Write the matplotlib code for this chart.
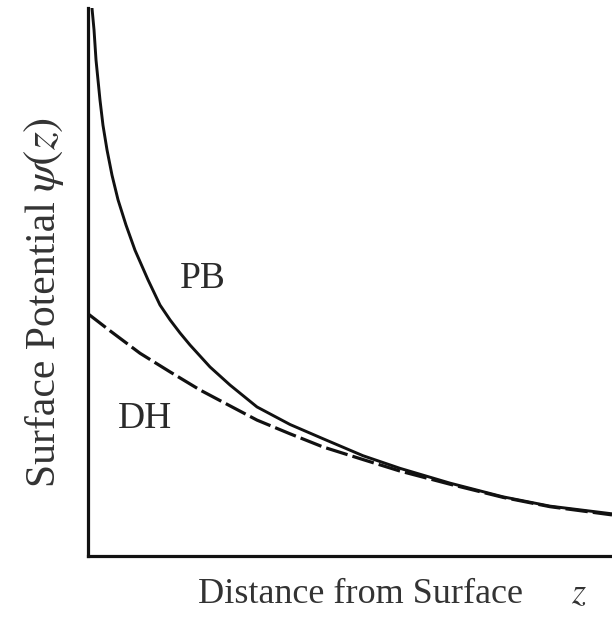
import numpy as np
import matplotlib
matplotlib.use("Agg")
import matplotlib.pyplot as plt

plt.rcParams["font.family"] = ["Liberation Serif", "DejaVu Serif"]
plt.rcParams["mathtext.fontset"] = "stix"

# values (arbitrary units, both axes 0..10)
pb_z = [0.076, 0.115, 0.153, 0.229, 0.286, 0.363, 0.458, 0.573, 0.725, 0.897,
        1.145, 1.374, 1.565, 1.756, 1.947, 2.328, 2.710, 3.225, 3.855, 4.485,
        5.248, 5.954, 6.908, 7.920, 8.817, 10.0]
pb_psi = [10.0, 9.60, 9.05, 8.32, 7.86, 7.41, 6.95, 6.50, 6.04, 5.58,
          5.04, 4.58, 4.31, 4.07, 3.85, 3.45, 3.12, 2.72, 2.40, 2.14,
          1.83, 1.60, 1.33, 1.08, 0.91, 0.77]

dh_z = [0.0, 0.420, 0.992, 1.565, 2.137, 2.710, 3.225, 3.855, 4.485, 5.248,
        5.954, 6.908, 7.920, 8.817, 10.0]
dh_psi = [4.42, 4.11, 3.70, 3.36, 3.03, 2.74, 2.48, 2.23, 1.99, 1.76,
          1.55, 1.31, 1.07, 0.90, 0.75]

labels = {"PB": (1.756, 4.89), "DH": (0.573, 2.336)}

fig = plt.figure(figsize=(6.12, 6.23), dpi=100)
ax = fig.add_axes([88 / 612, (623 - 556) / 623, 1 - 88 / 612, 548 / 623])

ax.plot(pb_z, pb_psi, color="#111111", lw=2.1, solid_joinstyle="round")
ax.plot(dh_z, dh_psi, color="#111111", lw=2.3, dashes=(7.0, 1.6))

for name, (x, y) in labels.items():
    ax.text(x, y, name, fontsize=27, color="#2a2a2a", ha="left", va="baseline")

ax.set_xlim(0, 10)
ax.set_ylim(0, 10)
ax.set_xticks([])
ax.set_yticks([])
for s in ["top", "right"]:
    ax.spines[s].set_visible(False)
for s in ["left", "bottom"]:
    ax.spines[s].set_linewidth(2.3)
    ax.spines[s].set_color("#111111")

fig.text(198 / 612, (623 - 603) / 623, "Distance from Surface",
         fontsize=26, color="#333333", ha="left", va="baseline")
fig.text(571 / 612, (623 - 603) / 623, "$z$",
         fontsize=26, color="#333333", ha="left", va="baseline")
fig.text(55 / 612, (623 - 487) / 623, "Surface Potential",
         fontsize=30, color="#333333", ha="left", va="baseline",
         rotation=90, rotation_mode="anchor")
fig.text(55 / 612, (623 - 192) / 623, r"$\psi(z)$",
         fontsize=33, color="#333333", ha="left", va="baseline",
         rotation=90, rotation_mode="anchor")

fig.savefig("out.png", dpi=100)
